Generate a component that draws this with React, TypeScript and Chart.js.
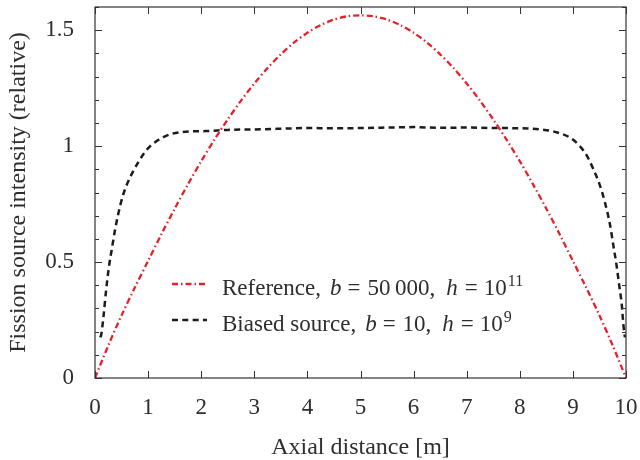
import React, { useEffect, useRef } from "react";
import { Chart, registerables } from "chart.js";

Chart.register(...registerables);

const FONT = '"Liberation Serif", "DejaVu Serif", serif';
const TEXT_COLOR = "#2e2e2e";

const xTickValues = [0, 1, 2, 3, 4, 5, 6, 7, 8, 9, 10];
const yTickValues = [0, 0.5, 1, 1.5];
const yTickLabels = ["0", "0.5", "1", "1.5"];
const yMinorTickValues = [0.1, 0.2, 0.3, 0.4, 0.6, 0.7, 0.8, 0.9, 1.1, 1.2, 1.3, 1.4, 1.6];

const referenceX = [
  0, 0.25, 0.5, 0.75, 1, 1.25, 1.5, 1.75, 2, 2.25, 2.5, 2.75, 3, 3.25, 3.5, 3.75, 4, 4.25, 4.5, 4.75,
  5, 5.25, 5.5, 5.75, 6, 6.25, 6.5, 6.75, 7, 7.25, 7.5, 7.75, 8, 8.25, 8.5, 8.75, 9, 9.25, 9.5, 9.75, 10,
];
const referenceY = [
  0, 0.14, 0.27, 0.39, 0.505, 0.62, 0.73, 0.835, 0.935, 1.028, 1.115, 1.196, 1.27, 1.337, 1.396, 1.447,
  1.489, 1.522, 1.546, 1.56, 1.564, 1.56, 1.546, 1.522, 1.489, 1.447, 1.396, 1.337, 1.27, 1.196, 1.115,
  1.028, 0.935, 0.835, 0.73, 0.62, 0.505, 0.39, 0.27, 0.14, 0,
];

const biasedX = [
  0.1, 0.12, 0.164, 0.207, 0.258, 0.32, 0.383, 0.477, 0.57, 0.73, 0.917, 1.04, 1.29, 1.6, 2.1, 2.5, 3,
  3.5, 4, 4.5, 5, 5.5, 6, 6.5, 7, 7.5, 8, 8.38, 8.69, 8.95, 9.13, 9.26, 9.38, 9.51, 9.6, 9.7, 9.76,
  9.82, 9.87, 9.92, 9.95, 9.98,
];
const biasedY = [
  0.175, 0.19, 0.274, 0.374, 0.473, 0.56, 0.646, 0.746, 0.817, 0.896, 0.967, 1.0, 1.039, 1.06, 1.065,
  1.07, 1.072, 1.075, 1.078, 1.077, 1.078, 1.08, 1.082, 1.079, 1.08, 1.078, 1.077, 1.072, 1.06, 1.036,
  1.0, 0.96, 0.903, 0.83, 0.76, 0.66, 0.574, 0.489, 0.403, 0.317, 0.231, 0.175,
];

const RED = "#e8202a";
const BLACK = "#1c1c1c";
const RED_DASH = [6, 3, 1.5, 3];
const BLACK_DASH = [6, 4.3];

// legend text pieces; gap = extra space before the piece (math spacing)
type Seg = { t: string; gap: number; italic?: boolean; sup?: boolean };
const legendRows: { color: string; dash: number[]; width: number; segs: Seg[] }[] = [
  {
    color: RED,
    dash: RED_DASH,
    width: 2.3,
    segs: [
      { t: "Reference,", gap: 0 },
      { t: "b", gap: 9, italic: true },
      { t: "=", gap: 6 },
      { t: "50\u2009000,", gap: 7 },
      { t: "h", gap: 11, italic: true },
      { t: "=", gap: 7 },
      { t: "10", gap: 6 },
      { t: "11", gap: 1, sup: true },
    ],
  },
  {
    color: BLACK,
    dash: BLACK_DASH,
    width: 2.5,
    segs: [
      { t: "Biased source,", gap: 0 },
      { t: "b", gap: 9, italic: true },
      { t: "=", gap: 6 },
      { t: "10,", gap: 7 },
      { t: "h", gap: 11, italic: true },
      { t: "=", gap: 7 },
      { t: "10", gap: 6 },
      { t: "9", gap: 1, sup: true },
    ],
  },
];

const framePlugin = {
  id: "frameTicks",
  afterDatasetsDraw(chart: any) {
    const { ctx, chartArea } = chart;
    const { left, right, top, bottom } = chartArea;
    const xs = chart.scales.x;
    const ys = chart.scales.y;
    ctx.save();
    ctx.setLineDash([]);
    ctx.strokeStyle = "#333";
    ctx.lineWidth = 1.2;
    ctx.strokeRect(left, top, right - left, bottom - top);
    ctx.lineWidth = 1;
    ctx.beginPath();
    for (const v of xTickValues) {
      const px = Math.round(xs.getPixelForValue(v)) + 0.5;
      ctx.moveTo(px, bottom);
      ctx.lineTo(px, bottom - 7);
      ctx.moveTo(px, top);
      ctx.lineTo(px, top + 7);
    }
    for (const v of yTickValues) {
      const py = Math.round(ys.getPixelForValue(v)) + 0.5;
      ctx.moveTo(left, py);
      ctx.lineTo(left + 7, py);
      ctx.moveTo(right, py);
      ctx.lineTo(right - 7, py);
    }
    for (const v of yMinorTickValues) {
      const py = Math.round(ys.getPixelForValue(v)) + 0.5;
      ctx.moveTo(left, py);
      ctx.lineTo(left + 4, py);
      ctx.moveTo(right, py);
      ctx.lineTo(right - 4, py);
    }
    ctx.stroke();

    // legend
    const lx0 = left + 77;
    const lx1 = left + 112;
    const tx = left + 127;
    const rowY = [top + 277, top + 313];
    legendRows.forEach((row, i) => {
      const y = rowY[i];
      ctx.beginPath();
      ctx.strokeStyle = row.color;
      ctx.lineWidth = row.width;
      ctx.setLineDash(row.dash);
      ctx.moveTo(lx0, y);
      ctx.lineTo(lx1, y);
      ctx.stroke();
      ctx.setLineDash([]);
      const base = y + 11;
      ctx.fillStyle = TEXT_COLOR;
      ctx.textBaseline = "alphabetic";
      ctx.textAlign = "left";
      let x = tx;
      for (const s of row.segs) {
        x += s.gap;
        if (s.sup) {
          ctx.font = `16px ${FONT}`;
          ctx.fillText(s.t, x, base - 9);
        } else {
          ctx.font = `${s.italic ? "italic " : ""}23px ${FONT}`;
          ctx.fillText(s.t, x, base);
        }
        x += ctx.measureText(s.t).width;
      }
    });
    ctx.restore();
  },
};

export default function App() {
  const ref = useRef<HTMLCanvasElement | null>(null);
  useEffect(() => {
    if (!ref.current) return;
    const chart = new Chart(ref.current, {
      type: "line",
      data: {
        datasets: [
          {
            label: "Reference",
            data: referenceX.map((x, i) => ({ x, y: referenceY[i] })),
            borderColor: RED,
            borderWidth: 2.3,
            borderDash: RED_DASH,
            pointRadius: 0,
            tension: 0.3,
            fill: false,
          },
          {
            label: "Biased source",
            data: biasedX.map((x, i) => ({ x, y: biasedY[i] })),
            borderColor: BLACK,
            borderWidth: 2.5,
            borderDash: BLACK_DASH,
            pointRadius: 0,
            cubicInterpolationMode: "monotone",
            fill: false,
          },
        ],
      },
      options: {
        responsive: false,
        animation: false,
        devicePixelRatio: 1,
        layout: { autoPadding: false, padding: { left: 0, top: 7, right: 14, bottom: 0 } },
        plugins: { legend: { display: false }, tooltip: { enabled: false } },
        scales: {
          x: {
            type: "linear",
            min: 0,
            max: 10,
            afterBuildTicks: (s: any) => {
              s.ticks = xTickValues.map((v) => ({ value: v }));
            },
            afterFit: (s: any) => {
              s.height = 82;
              s.paddingLeft = 0;
              s.paddingRight = 0;
              s.paddingTop = 0;
              s.paddingBottom = 0;
            },
            ticks: {
              padding: 16,
              color: TEXT_COLOR,
              font: { family: FONT, size: 23 },
              callback: (v: any) => String(v),
            },
            grid: { display: false, drawTicks: false },
            border: { display: false },
            title: {
              display: true,
              text: "Axial distance [m]",
              color: TEXT_COLOR,
              font: { family: FONT, size: 24, lineHeight: 1 },
              padding: { top: 0, bottom: 0 },
            },
          },
          y: {
            type: "linear",
            min: 0,
            max: 1.6,
            afterBuildTicks: (s: any) => {
              s.ticks = yTickValues.map((v) => ({ value: v }));
            },
            afterFit: (s: any) => {
              s.width = 95;
              s.paddingLeft = 0;
              s.paddingRight = 0;
              s.paddingTop = 0;
              s.paddingBottom = 0;
            },
            ticks: {
              padding: 21,
              color: TEXT_COLOR,
              font: { family: FONT, size: 23 },
              callback: (v: any) => {
                const i = yTickValues.indexOf(Number(v));
                return i >= 0 ? yTickLabels[i] : "";
              },
            },
            grid: { display: false, drawTicks: false },
            border: { display: false },
            title: {
              display: true,
              text: "Fission source intensity (relative)",
              color: TEXT_COLOR,
              font: { family: FONT, size: 24 },
              padding: { top: 4, bottom: 0 },
            },
          },
        },
      },
      plugins: [framePlugin],
    } as any);
    return () => chart.destroy();
  }, []);
  return (
    <div style={{ position: "fixed", left: 0, top: 0, width: 640, height: 460, background: "#fff" }}>
      <canvas ref={ref} width={640} height={460} />
    </div>
  );
}
